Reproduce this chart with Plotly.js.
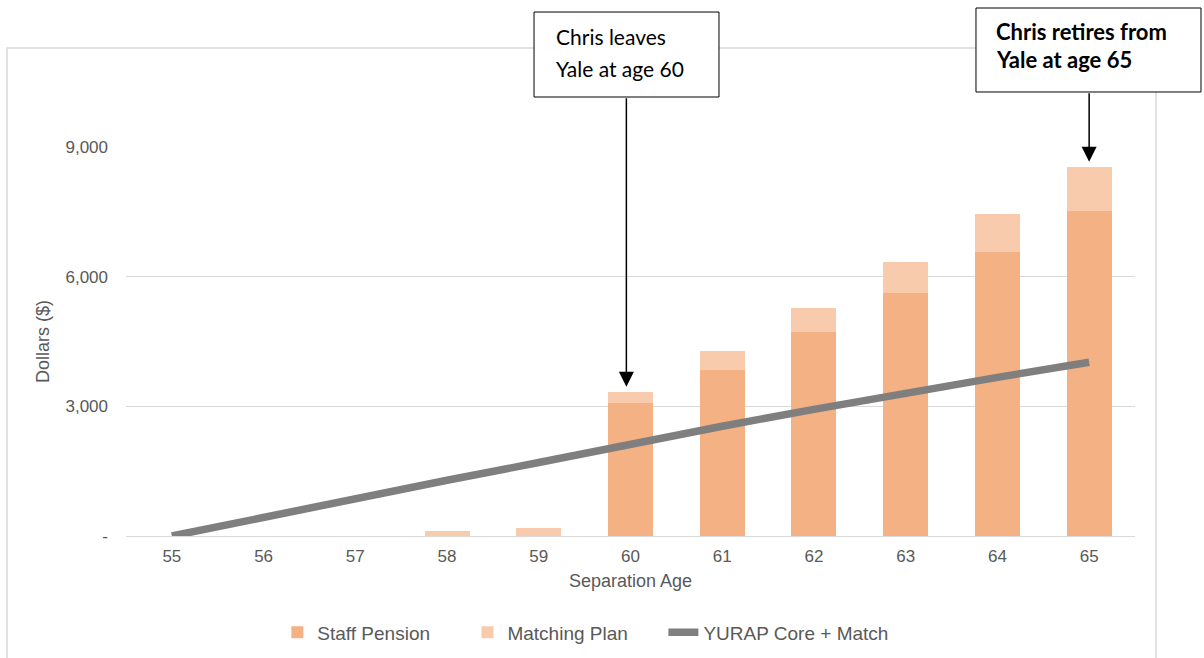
<!DOCTYPE html>
<html>
<head>
<meta charset="utf-8">
<script src="https://cdn.plot.ly/plotly-3.0.1.min.js"></script>
<style>
  html, body { margin: 0; padding: 0; background: #ffffff; }
  #chart { width: 1204px; height: 658px; }
</style>
</head>
<body>
<div id="chart"></div>
<script>
// ---- Data ----
const ages = ['55', '56', '57', '58', '59', '60', '61', '62', '63', '64', '65'];
const staffPension = [0, 0, 0, 0, 0, 3080, 3840, 4720, 5620, 6570, 7520];
const matchingPlan = [0, 0, 0, 110, 190, 260, 440, 555, 720, 880, 1020];
const yurapCoreMatch = [0, 440, 870, 1290, 1700, 2130, 2540, 2930, 3310, 3670, 4020];
const yTickVals = [0, 3000, 6000, 9000];
const yTickText = ['-', '3,000', '6,000', '9,000'];
const seriesNames = ['Staff Pension', 'Matching Plan', 'YURAP Core + Match'];
const note60 = ['Chris leaves', 'Yale at age 60'];
const note65 = ['Chris retires from', 'Yale at age 65'];

const txt = '#595959';
const baseFont = 'Liberation Sans, Arial, sans-serif';
const boxFont = 'Lato, Carlito, sans-serif';

const idx60 = ages.indexOf('60');
const idx65 = ages.indexOf('65');

const traces = [
  {
    type: 'bar', name: seriesNames[0], x: ages, y: staffPension, legend: 'legend',
    marker: { color: '#F4B183' }, hoverinfo: 'x+y'
  },
  {
    type: 'bar', name: seriesNames[1], x: ages, y: matchingPlan, legend: 'legend2',
    marker: { color: '#F8CBAD' }, hoverinfo: 'x+y'
  },
  {
    type: 'scatter', mode: 'lines', name: seriesNames[2], x: ages, y: yurapCoreMatch, legend: 'legend3',
    line: { color: '#7F7F7F', width: 7.5 }, hoverinfo: 'x+y'
  }
];

function noteLine(text, x, y, bold, size) {
  return {
    x: x, y: y, xref: 'paper', yref: 'paper', xanchor: 'left', yanchor: 'middle',
    text: bold ? '<b>' + text + '</b>' : text, showarrow: false, align: 'left',
    font: { family: boxFont, size: size, color: '#000000' }
  };
}

function legendAt(x) {
  return {
    orientation: 'h', x: x, xanchor: 'left', y: -0.2476, yanchor: 'middle',
    font: { size: 19, color: txt, family: baseFont },
    bgcolor: 'rgba(0,0,0,0)'
  };
}

const layout = {
  width: 1204, height: 658,
  margin: { l: 126, r: 69, t: 147, b: 122, autoexpand: false },
  paper_bgcolor: '#ffffff', plot_bgcolor: '#ffffff',
  barmode: 'stack', bargap: 0.51,
  font: { family: baseFont, color: txt, size: 17 },
  xaxis: {
    type: 'category', range: [-0.5, ages.length - 0.5], autorange: false,
    showgrid: false, showline: false, zeroline: false,
    ticks: '', ticklabelstandoff: 8,
    tickfont: { size: 17, color: txt, family: baseFont },
    title: { text: 'Separation Age', font: { size: 18, color: txt, family: baseFont }, standoff: 9 },
    automargin: false
  },
  yaxis: {
    range: [0, 9000], autorange: false,
    tickvals: yTickVals, ticktext: yTickText,
    showgrid: true, gridcolor: '#D9D9D9', gridwidth: 1,
    zeroline: true, zerolinecolor: '#D9D9D9', zerolinewidth: 1,
    showline: false, ticks: '', ticklabelstandoff: 17,
    tickfont: { size: 17, color: txt, family: baseFont },
    title: { text: 'Dollars ($)', font: { size: 18, color: txt, family: baseFont }, standoff: 11 },
    automargin: false
  },
  showlegend: true,
  legend: legendAt(0.15),
  legend2: legendAt(0.3384),
  legend3: legendAt(0.5326),
  shapes: [
    { type: 'rect', xref: 'paper', yref: 'paper', x0: -0.1179, x1: 1.0208, y0: -0.33, y1: 1.2545,
      line: { color: '#D9D9D9', width: 1.5 }, fillcolor: 'rgba(0,0,0,0)', layer: 'below' },
    { type: 'rect', xref: 'paper', yref: 'paper', x0: 0.4044, x1: 0.5877, y0: 1.1285, y1: 1.347,
      line: { color: '#000000', width: 1 }, fillcolor: '#ffffff', layer: 'above' },
    { type: 'rect', xref: 'paper', yref: 'paper', x0: 0.8424, x1: 1.0654, y0: 1.1414, y1: 1.3573,
      line: { color: '#000000', width: 1 }, fillcolor: '#ffffff', layer: 'above' }
  ],
  annotations: [
    { x: idx60 - 0.045, y: 3454, xref: 'x', yref: 'y', ax: 0, ay: -290, axref: 'pixel', ayref: 'pixel',
      text: '', showarrow: true, arrowhead: 2, arrowsize: 2, arrowwidth: 1.5, arrowcolor: '#000000', standoff: 0 },
    { x: idx65, y: 8660, xref: 'x', yref: 'y', ax: 0, ay: -70, axref: 'pixel', ayref: 'pixel',
      text: '', showarrow: true, arrowhead: 2, arrowsize: 2, arrowwidth: 1.5, arrowcolor: '#000000', standoff: 0 },
    noteLine(note60[0], 0.4242, 1.2853, false, 21),
    noteLine(note60[1], 0.4242, 1.2030, false, 21),
    noteLine(note65[0], 0.8603, 1.2957, true, 22),
    noteLine(note65[1], 0.8603, 1.2237, true, 22)
  ]
};

Plotly.newPlot('chart', traces, layout, { displayModeBar: false, responsive: false });
</script>
</body>
</html>
